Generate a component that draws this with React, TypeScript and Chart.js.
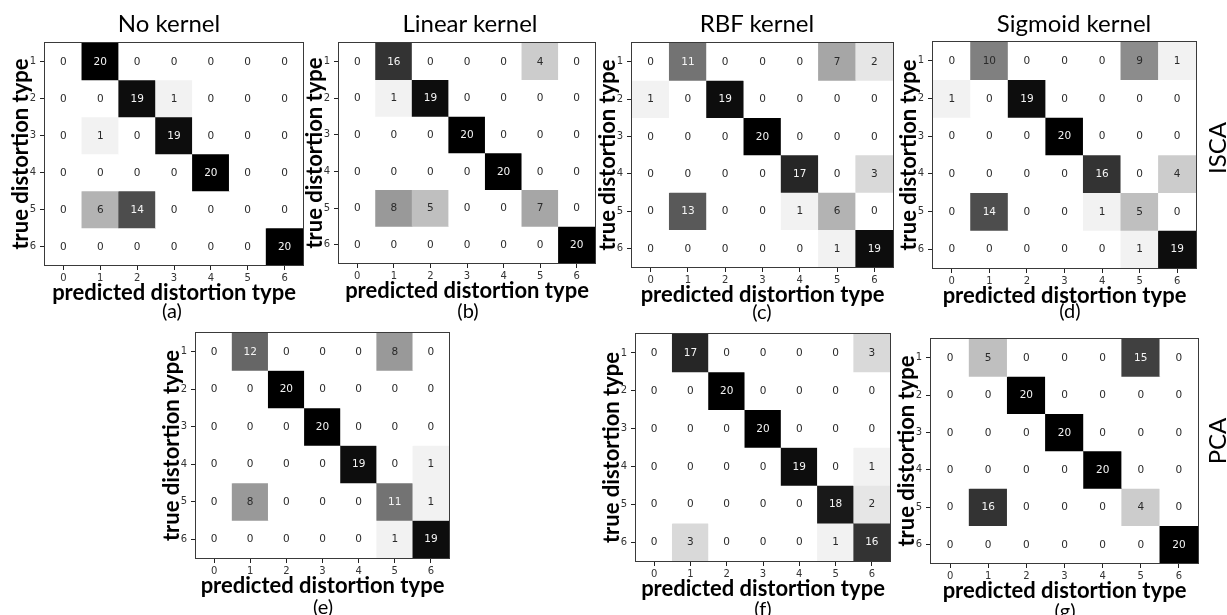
import React, { useEffect, useRef } from 'react';
import { Chart, registerables } from 'chart.js';

Chart.register(...registerables);

// Axis categories
const PREDICTED_TYPES = ['0', '1', '2', '3', '4', '5', '6'];
const TRUE_TYPES = [1, 2, 3, 4, 5, 6];
const MAX_COUNT = 20;

// Confusion matrices: one row per true distortion type, one column per predicted type
const iscaNoKernel = [
  [0, 20, 0, 0, 0, 0, 0],
  [0, 0, 19, 1, 0, 0, 0],
  [0, 1, 0, 19, 0, 0, 0],
  [0, 0, 0, 0, 20, 0, 0],
  [0, 6, 14, 0, 0, 0, 0],
  [0, 0, 0, 0, 0, 0, 20],
];
const iscaLinear = [
  [0, 16, 0, 0, 0, 4, 0],
  [0, 1, 19, 0, 0, 0, 0],
  [0, 0, 0, 20, 0, 0, 0],
  [0, 0, 0, 0, 20, 0, 0],
  [0, 8, 5, 0, 0, 7, 0],
  [0, 0, 0, 0, 0, 0, 20],
];
const iscaRbf = [
  [0, 11, 0, 0, 0, 7, 2],
  [1, 0, 19, 0, 0, 0, 0],
  [0, 0, 0, 20, 0, 0, 0],
  [0, 0, 0, 0, 17, 0, 3],
  [0, 13, 0, 0, 1, 6, 0],
  [0, 0, 0, 0, 0, 1, 19],
];
const iscaSigmoid = [
  [0, 10, 0, 0, 0, 9, 1],
  [1, 0, 19, 0, 0, 0, 0],
  [0, 0, 0, 20, 0, 0, 0],
  [0, 0, 0, 0, 16, 0, 4],
  [0, 14, 0, 0, 1, 5, 0],
  [0, 0, 0, 0, 0, 1, 19],
];
const pcaE = [
  [0, 12, 0, 0, 0, 8, 0],
  [0, 0, 20, 0, 0, 0, 0],
  [0, 0, 0, 20, 0, 0, 0],
  [0, 0, 0, 0, 19, 0, 1],
  [0, 8, 0, 0, 0, 11, 1],
  [0, 0, 0, 0, 0, 1, 19],
];
const pcaF = [
  [0, 17, 0, 0, 0, 0, 3],
  [0, 0, 20, 0, 0, 0, 0],
  [0, 0, 0, 20, 0, 0, 0],
  [0, 0, 0, 0, 19, 0, 1],
  [0, 0, 0, 0, 0, 18, 2],
  [0, 3, 0, 0, 0, 1, 16],
];
const pcaG = [
  [0, 5, 0, 0, 0, 15, 0],
  [0, 0, 20, 0, 0, 0, 0],
  [0, 0, 0, 20, 0, 0, 0],
  [0, 0, 0, 0, 20, 0, 0],
  [0, 16, 0, 0, 0, 4, 0],
  [0, 0, 0, 0, 0, 0, 20],
];

const COLUMN_TITLES = ['No kernel', 'Linear kernel', 'RBF kernel', 'Sigmoid kernel'];
const ROW_TITLES = ['ISCA', 'PCA'];
const X_TITLE = 'predicted distortion type';
const Y_TITLE = 'true distortion type';

// Page layout: plot-area rectangle [left, top, right, bottom] for each panel
const PANELS = [
  { tag: '(a)', matrix: iscaNoKernel, box: [45, 43, 303, 265], tagPos: [172, 318] },
  { tag: '(b)', matrix: iscaLinear, box: [339, 43, 595, 263], tagPos: [468, 318] },
  { tag: '(c)', matrix: iscaRbf, box: [632, 43, 893, 267], tagPos: [762, 319] },
  { tag: '(d)', matrix: iscaSigmoid, box: [933, 42, 1196, 268], tagPos: [1070, 318] },
  { tag: '(e)', matrix: pcaE, box: [196, 333, 449, 558], tagPos: [323, 614] },
  { tag: '(f)', matrix: pcaF, box: [636, 334, 890, 561], tagPos: [763, 616] },
  { tag: '(g)', matrix: pcaG, box: [931, 339, 1198, 563], tagPos: [1065, 618] },
];
const TITLE_POS = [[169, 32], [470, 32], [757, 32], [1074, 32]];
const ROW_TITLE_POS = [[1216, 148], [1216, 441]];

const PAD_L = 37;
const PAD_T = 6;
const PAD_R = 6;
const PAD_B = 41;

const TICK_FONT = { family: '"DejaVu Sans", sans-serif', size: 10 };
const AXIS_TITLE_FONT = { family: 'Lato, "Open Sans", sans-serif', size: 22, weight: 'bold' as const };

function cellColor(v: number): string {
  const g = Math.round(255 * (1 - v / MAX_COUNT));
  return `rgb(${g},${g},${g})`;
}

function MatrixPanel({ matrix, box }: { matrix: number[][]; box: number[] }) {
  const ref = useRef<HTMLCanvasElement>(null);
  const [L, T, R, B] = box;
  const w = R - L + PAD_L + PAD_R;
  const h = B - T + PAD_T + PAD_B;

  useEffect(() => {
    if (!ref.current) return;

    // Writes the counts into each cell and outlines the plot area
    const countsAndFrame = {
      id: 'countsAndFrame',
      afterDatasetsDraw(chart: any) {
        const ctx = chart.ctx;
        const { left, top, right, bottom } = chart.chartArea;
        ctx.save();
        ctx.font = '10.5px "DejaVu Sans", sans-serif';
        ctx.textAlign = 'center';
        ctx.textBaseline = 'middle';
        chart.data.datasets.forEach((_ds: any, r: number) => {
          const meta = chart.getDatasetMeta(r);
          meta.data.forEach((bar: any, c: number) => {
            const v = matrix[r][c];
            const { x, y, base } = bar.getProps(['x', 'y', 'base'], true);
            ctx.fillStyle = v > MAX_COUNT / 2 ? '#f4f4f4' : '#2a2a2a';
            ctx.fillText(String(v), x, (y + base) / 2 + 0.5);
          });
        });
        ctx.strokeStyle = '#3a3a3a';
        ctx.lineWidth = 1;
        ctx.strokeRect(left - 0.5, top - 0.5, right - left + 1, bottom - top + 1);
        ctx.restore();
      },
    };

    const chart = new Chart(ref.current, {
      type: 'bar',
      data: {
        labels: PREDICTED_TYPES,
        datasets: TRUE_TYPES.map((t, r) => ({
          label: String(t),
          data: matrix[r].map(() => [t - 0.5, t + 0.5]) as any,
          backgroundColor: matrix[r].map(cellColor),
          borderWidth: 0,
          barPercentage: 1,
          categoryPercentage: 1,
          grouped: false,
        })),
      },
      options: {
        responsive: false,
        animation: false,
        devicePixelRatio: 1,
        events: [],
        layout: { padding: { left: 0, top: PAD_T, right: PAD_R, bottom: 0 } },
        plugins: {
          legend: { display: false },
          tooltip: { enabled: false },
          title: { display: false },
        },
        scales: {
          x: {
            type: 'category',
            offset: true,
            grid: {
              display: true,
              offset: false,
              drawOnChartArea: false,
              drawTicks: true,
              tickLength: 5,
              color: '#222',
            },
            border: { display: false },
            ticks: { color: '#333', font: TICK_FONT, padding: 2, maxRotation: 0, autoSkip: false },
            title: { display: true, text: X_TITLE, color: '#000', font: AXIS_TITLE_FONT, padding: 0 },
            afterFit: (s: any) => {
              s.height = PAD_B;
              s.paddingLeft = 0;
              s.paddingRight = 0;
            },
          },
          y: {
            type: 'linear',
            reverse: true,
            min: 0.5,
            max: 6.5,
            afterBuildTicks: (s: any) => {
              s.ticks = TRUE_TYPES.map((v) => ({ value: v }));
            },
            grid: {
              display: true,
              drawOnChartArea: false,
              drawTicks: true,
              tickLength: 5,
              color: '#222',
            },
            border: { display: false },
            ticks: { color: '#333', font: TICK_FONT, padding: 4 },
            title: { display: true, text: Y_TITLE, color: '#000', font: AXIS_TITLE_FONT, padding: 0 },
            afterFit: (s: any) => {
              s.width = PAD_L;
              s.paddingTop = 0;
              s.paddingBottom = 0;
            },
          },
        },
      } as any,
      plugins: [countsAndFrame],
    });
    return () => chart.destroy();
  }, [matrix]);

  return (
    <canvas
      ref={ref}
      width={w}
      height={h}
      style={{ position: 'absolute', left: L - PAD_L, top: T - PAD_T, width: w, height: h }}
    />
  );
}

export default function App() {
  const textFont = 'Lato, "Open Sans", sans-serif';
  return (
    <div
      style={{
        position: 'absolute',
        left: 0,
        top: 0,
        width: 1227,
        height: 615,
        overflow: 'hidden',
        background: '#fff',
      }}
    >
      {PANELS.map((p) => (
        <MatrixPanel key={p.tag} matrix={p.matrix} box={p.box} />
      ))}
      <svg
        width={1227}
        height={615}
        style={{ position: 'absolute', left: 0, top: 0, pointerEvents: 'none' }}
      >
        {COLUMN_TITLES.map((t, i) => (
          <text
            key={t}
            x={TITLE_POS[i][0]}
            y={TITLE_POS[i][1]}
            textAnchor="middle"
            fontFamily={textFont}
            fontSize={24}
            fill="#000"
          >
            {t}
          </text>
        ))}
        {PANELS.map((p) => (
          <text
            key={p.tag}
            x={p.tagPos[0]}
            y={p.tagPos[1]}
            textAnchor="middle"
            fontFamily={textFont}
            fontSize={20}
            fill="#000"
          >
            {p.tag}
          </text>
        ))}
        {ROW_TITLES.map((t, i) => (
          <text
            key={t}
            x={0}
            y={0}
            transform={`translate(${ROW_TITLE_POS[i][0]},${ROW_TITLE_POS[i][1]}) rotate(-90)`}
            textAnchor="middle"
            dominantBaseline="central"
            fontFamily={textFont}
            fontSize={24}
            fill="#000"
          >
            {t}
          </text>
        ))}
      </svg>
    </div>
  );
}
